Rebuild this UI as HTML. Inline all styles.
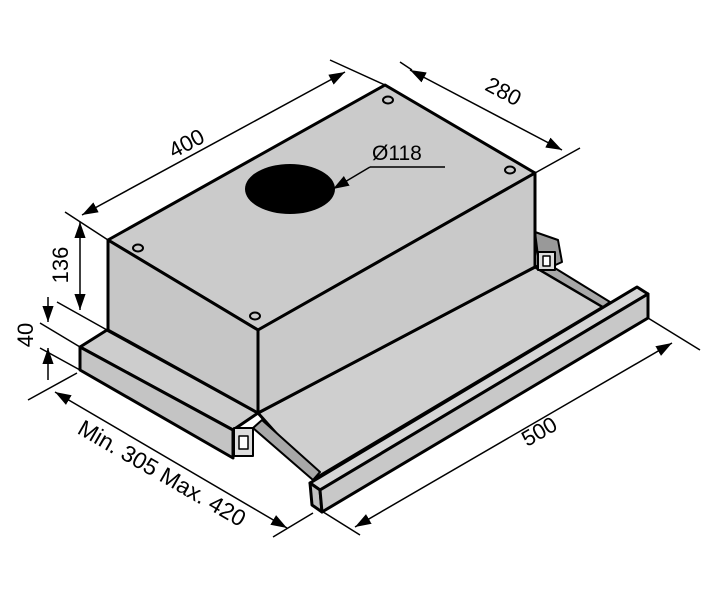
<!DOCTYPE html>
<html><head><style>html,body{margin:0;padding:0;background:#fff}svg{display:block}</style></head>
<body>
<svg width="710" height="600" viewBox="0 0 710 600" xmlns="http://www.w3.org/2000/svg" font-family="Liberation Sans, sans-serif">
<defs>
<marker id="b" viewBox="0 0 10 10" refX="10" refY="5" markerWidth="16" markerHeight="16" orient="auto-start-reverse" markerUnits="userSpaceOnUse"><path d="M0,1.5 L10,5 L0,8.5 z" fill="#000"/></marker>
</defs>
<g stroke="#000" stroke-width="3" stroke-linejoin="round">
<!-- rear bracket -->
<polygon points="535,232 558,240 562,262 540,272" fill="#999" stroke-width="2"/>
<!-- base plate left -->
<polygon points="80,347 107,330 258,413 233,430" fill="#cdcdcd"/>
<polygon points="80,347 233,430 233,458 80,370" fill="#c4c4c4"/>
<!-- drawer floor -->
<polygon points="258,413 535,267 603,307 316,478" fill="#cfcfcf"/>
<!-- rails -->
<polygon points="253,428 262,420 320,472 313,480" fill="#a8a8a8" stroke-width="2"/>
<polygon points="535,267 545,262 610,302 603,307" fill="#a8a8a8" stroke-width="2"/>
<!-- front bar -->
<polygon points="310,483 637,287 648,294 320,490" fill="#d6d6d6"/>
<polygon points="310,483 320,490 322,512 312,505" fill="#c0c0c0"/>
<polygon points="320,490 648,294 648,318 322,512" fill="#c8c8c8"/>
<!-- main box -->
<polygon points="108,240 385,85 535,173 258,330" fill="#cbcbcb"/>
<polygon points="108,240 258,330 258,413 108,330" fill="#c6c6c6"/>
<polygon points="258,330 535,173 535,267 258,413" fill="#c9c9c9"/>
<!-- brackets -->
<rect x="234" y="428" width="19" height="28" fill="#ddd" stroke-width="2"/>
<rect x="239" y="436" width="9" height="13" fill="#fff" stroke-width="1.5"/>
<rect x="538" y="252" width="17" height="18" fill="#ddd" stroke-width="2"/>
<rect x="543" y="256" width="7" height="10" fill="#fff" stroke-width="1.5"/>
</g>
<!-- holes -->
<g fill="none" stroke="#000" stroke-width="2">
<ellipse cx="138" cy="248" rx="5" ry="3.5"/>
<ellipse cx="255" cy="316" rx="5" ry="3.5"/>
<ellipse cx="510" cy="170" rx="5" ry="3.5"/>
<ellipse cx="388" cy="100" rx="5" ry="3.5"/>
</g>
<ellipse cx="290" cy="189" rx="45" ry="25" fill="#000"/>
<!-- dimension lines -->
<g stroke="#000" stroke-width="1.5" fill="none">
<line x1="65" y1="212" x2="108" y2="240"/>
<line x1="330" y1="60" x2="385" y2="85"/>
<line x1="82" y1="215" x2="345" y2="72" marker-start="url(#b)" marker-end="url(#b)"/>
<line x1="400" y1="62" x2="412" y2="70"/>
<line x1="535" y1="173" x2="580" y2="148"/>
<line x1="410" y1="70" x2="562" y2="150" marker-start="url(#b)" marker-end="url(#b)"/>
<polyline points="370,167 445,167"/>
<line x1="370" y1="167" x2="333" y2="189" marker-end="url(#b)"/>
<line x1="57" y1="302" x2="107" y2="330"/>
<line x1="80" y1="222" x2="80" y2="310" marker-start="url(#b)" marker-end="url(#b)"/>
<line x1="40" y1="323" x2="80" y2="347"/>
<line x1="40" y1="348" x2="80" y2="370"/>
<line x1="48" y1="297" x2="48" y2="322" marker-end="url(#b)"/>
<line x1="48" y1="380" x2="48" y2="348" marker-end="url(#b)"/>
<line x1="28" y1="400" x2="77" y2="373"/>
<line x1="273" y1="537" x2="313" y2="513"/>
<line x1="55" y1="392" x2="287" y2="528" marker-start="url(#b)" marker-end="url(#b)"/>
<line x1="312" y1="505" x2="360" y2="535"/>
<line x1="648" y1="318" x2="700" y2="350"/>
<line x1="355" y1="527" x2="672" y2="343" marker-start="url(#b)" marker-end="url(#b)"/>
</g>
<g font-size="22" fill="#000">
<text transform="translate(190,150) rotate(-28)" text-anchor="middle">400</text>
<text transform="translate(500,98) rotate(28)" text-anchor="middle">280</text>
<text x="372" y="160" font-size="21">Ø118</text>
<text transform="translate(68,265) rotate(-90)" text-anchor="middle">136</text>
<text transform="translate(33,335) rotate(-90)" text-anchor="middle">40</text>
<text transform="translate(158,480) rotate(30)" text-anchor="middle" font-size="23">Min. 305 Max. 420</text>
<text transform="translate(543,438) rotate(-30)" text-anchor="middle">500</text>
</g>
</svg>
</body></html>
